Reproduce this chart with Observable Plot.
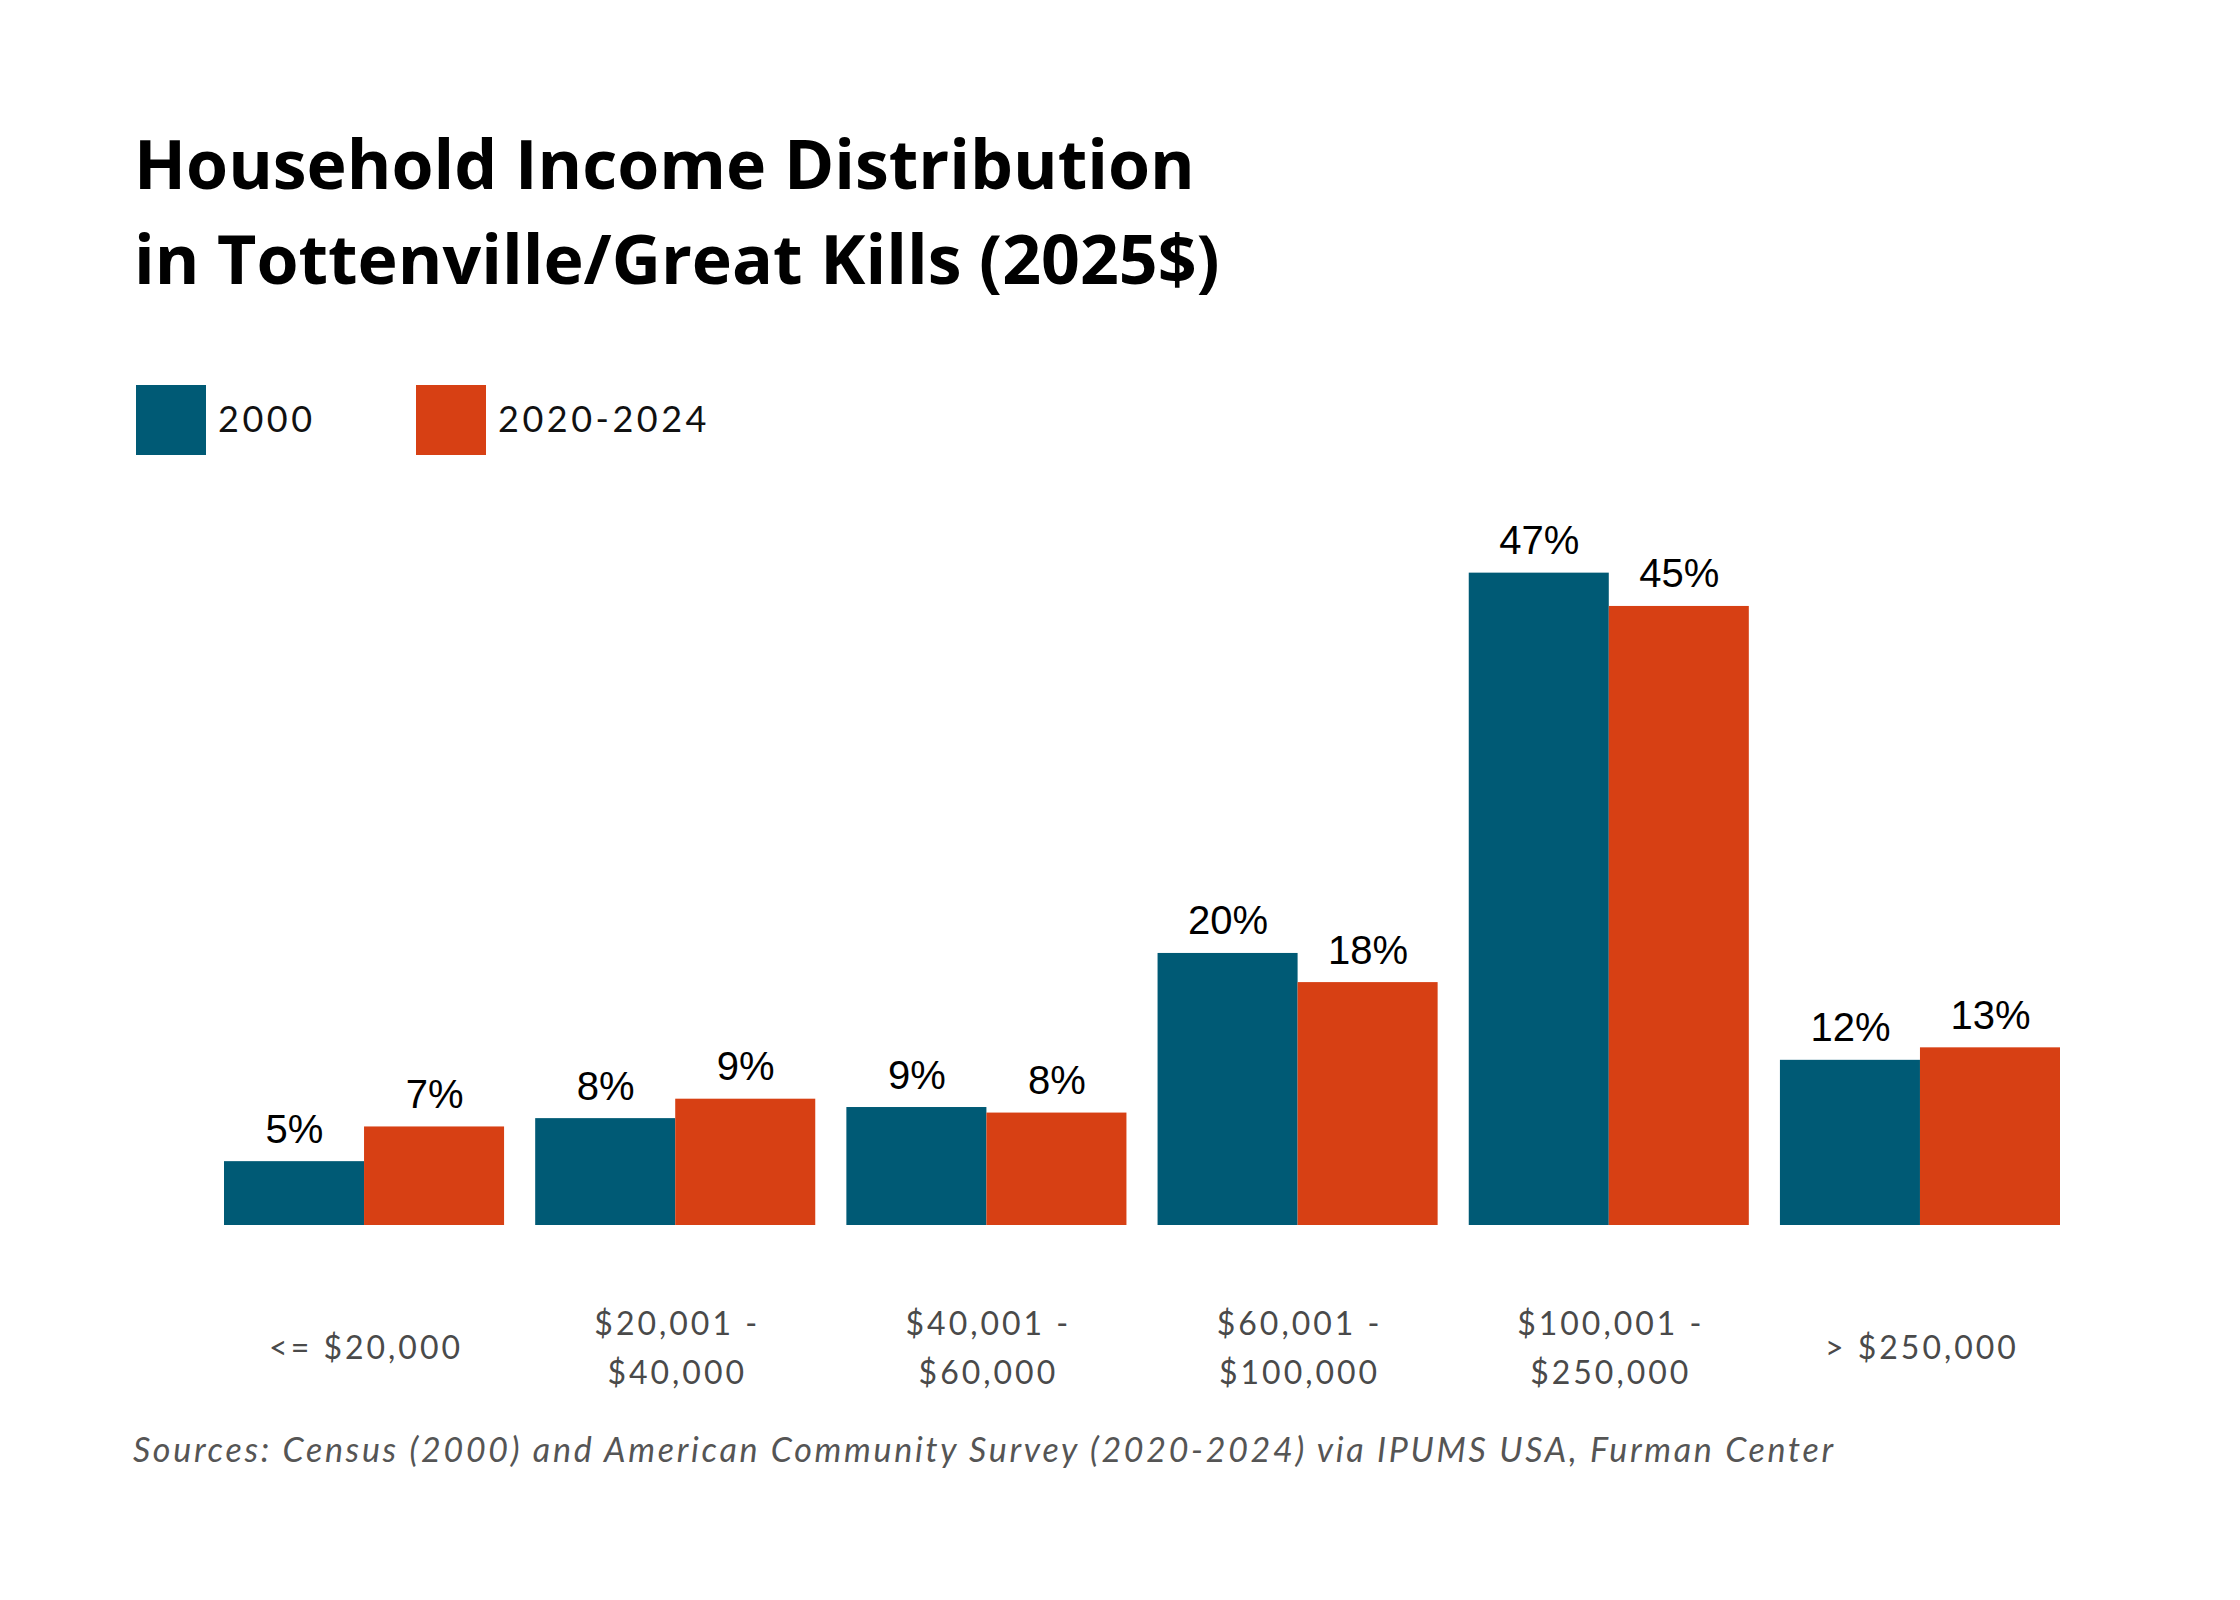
<!DOCTYPE html>
<html>
<head>
<meta charset="utf-8">
<script src="https://cdn.jsdelivr.net/npm/d3@7"></script>
<script src="https://cdn.jsdelivr.net/npm/@observablehq/plot@0.6"></script>
<style>
  html, body { margin: 0; padding: 0; background: #fff; }
  #page { position: relative; width: 2240px; height: 1600px; background: #fff; overflow: hidden; }
  .title { position: absolute; left: 134px; top: 115px; font-family: "Open Sans", sans-serif; font-weight: 700; font-size: 68px; line-height: 95px; color: #000; white-space: nowrap; }
  .legend-swatch { position: absolute; top: 385px; width: 70px; height: 70px; }
  .legend-label { position: absolute; top: 393px; font-family: Lato, sans-serif; font-size: 36px; line-height: 50px; letter-spacing: 3.5px; color: #111; white-space: nowrap; }
  .caption { position: absolute; left: 133px; top: 1425px; font-family: Lato, sans-serif; font-style: italic; font-size: 34px; line-height: 48px; letter-spacing: 2.7px; color: #555; white-space: nowrap; }
  #chart { position: absolute; left: 0; top: 480px; }
</style>
</head>
<body>
<div id="page">
  <div class="title">Household Income Distribution<br>in Tottenville/Great Kills (2025$)</div>
  <div id="legend"></div>
  <div id="chart"></div>
  <div class="caption">Sources: Census (2000) and American Community Survey (2020-2024) via IPUMS USA, Furman Center</div>
</div>
<script>
const categories = ["<= $20,000", "$20,001 - $40,000", "$40,001 - $60,000", "$60,001 - $100,000", "$100,001 - $250,000", "> $250,000"];
const categoryLabels = ["<= $20,000", "$20,001 -\n$40,000", "$40,001 -\n$60,000", "$60,001 -\n$100,000", "$100,001 -\n$250,000", "> $250,000"];
const seriesNames = ["2000", "2020-2024"];
const values2000 = [4.6, 7.7, 8.5, 19.6, 47.0, 11.9];
const values2020 = [7.1, 9.1, 8.1, 17.5, 44.6, 12.8];
const seriesColors = ["#005a75", "#d74014"];

const data = [];
categories.forEach((c, i) => {
  data.push({category: c, series: seriesNames[0], value: values2000[i]});
  data.push({category: c, series: seriesNames[1], value: values2020[i]});
});
const labelData = categories.map((c, i) => ({category: c, label: categoryLabels[i]}));

// legend
const legend = document.getElementById("legend");
const legendX = [136, 416];
seriesNames.forEach((s, i) => {
  const sw = document.createElement("div");
  sw.className = "legend-swatch";
  sw.style.left = legendX[i] + "px";
  sw.style.background = seriesColors[i];
  legend.appendChild(sw);
  const lb = document.createElement("div");
  lb.className = "legend-label";
  lb.style.left = (legendX[i] + 82) + "px";
  lb.textContent = s;
  legend.appendChild(lb);
});

const chart = Plot.plot({
  width: 2240,
  height: 940,
  marginLeft: 224,
  marginRight: 180,
  marginTop: 51,
  marginBottom: 195,
  fx: {domain: categories, paddingInner: 0.1, paddingOuter: 0, round: false, axis: null},
  x: {domain: seriesNames, padding: 0, round: false, axis: null},
  y: {domain: [0, 50], axis: null},
  color: {domain: seriesNames, range: seriesColors},
  style: {background: "transparent"},
  marks: [
    Plot.barY(data, {fx: "category", x: "series", y: "value", fill: "series", inset: 0}),
    Plot.text(data, {
      fx: "category", x: "series", y: "value",
      text: d => Math.round(d.value) + "%",
      lineAnchor: "bottom", dy: -19,
      fontSize: 40, fontFamily: "'Liberation Sans', Arial, sans-serif", fill: "#000"
    }),
    Plot.text(labelData, {
      fx: "category", text: "label",
      frameAnchor: "bottom", dy: 118, dx: 1.5,
      lineAnchor: "middle", lineHeight: 1.56,
      fontSize: 32, fontFamily: "Lato, sans-serif", fill: "#4a4a4a"
    })
  ]
});
d3.select(chart).selectAll('g[font-family^="Lato"] text, g[font-family^="Lato"] tspan')
  .style("letter-spacing", "3px");
document.getElementById("chart").appendChild(chart);
</script>
</body>
</html>
